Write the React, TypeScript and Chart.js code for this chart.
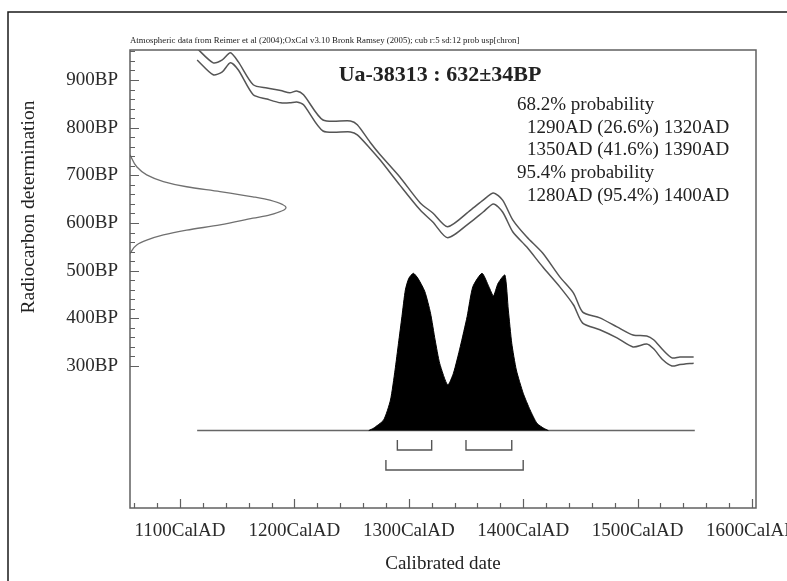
import { useEffect, useRef } from "react";
import Chart from "chart.js/auto";

// ---- Data ----
const calYears = [1115, 1129, 1137, 1144, 1151, 1164, 1176, 1188, 1196, 1202, 1208, 1225, 1249, 1255, 1266, 1275, 1292, 1310, 1321, 1334, 1354, 1365, 1374, 1382, 1391, 1403, 1417, 1432, 1444, 1452, 1467, 1482, 1496, 1508, 1514, 1522, 1530, 1537, 1549];
const curveUpperBP = [966, 936, 942, 957, 938, 890, 883, 878, 873, 877, 869, 816, 814, 806, 770, 743, 697, 642, 621, 592, 627, 648, 663, 648, 606, 571, 537, 487, 453, 413, 401, 382, 365, 363, 355, 334, 317, 319, 319];
const curveLowerBP = [942, 911, 917, 936, 921, 869, 860, 852, 852, 854, 848, 793, 791, 785, 757, 732, 680, 627, 602, 569, 602, 623, 640, 623, 581, 550, 508, 466, 428, 390, 376, 359, 340, 346, 336, 313, 300, 303, 306];

const probYears = [1265, 1269, 1278, 1284, 1288, 1291, 1294, 1297, 1300, 1304, 1308, 1314, 1319, 1323, 1327, 1334, 1339, 1345, 1351, 1356, 1364, 1370, 1374, 1378, 1384, 1387, 1390, 1394, 1400, 1406, 1412, 1418, 1422];
const probValues = [0, 0.014, 0.067, 0.194, 0.385, 0.555, 0.725, 0.894, 0.968, 1.0, 0.968, 0.884, 0.746, 0.576, 0.427, 0.289, 0.364, 0.533, 0.725, 0.915, 1.0, 0.915, 0.856, 0.936, 0.989, 0.766, 0.555, 0.385, 0.237, 0.131, 0.046, 0.014, 0];

const gaussBP = [743, 718, 701, 687, 676, 666, 655, 648, 632, 617, 610, 596, 585, 575, 564, 554, 536];
const gaussDensity = [0, 0.043, 0.107, 0.214, 0.363, 0.577, 0.788, 0.897, 1.0, 0.897, 0.788, 0.577, 0.363, 0.214, 0.107, 0.043, 0];

const baselineYears = [1115, 1550];
const range68 = [[1290, 1320], [1350, 1390]];
const range95 = [[1280, 1400]];

const xTickYears = [1100, 1200, 1300, 1400, 1500, 1600];
const yTickBP = [300, 400, 500, 600, 700, 800, 900];
const xMinorStart = 1060, xMinorEnd = 1600, xMinorStep = 20;
const yMinorStart = 300, yMinorEnd = 960, yMinorStep = 20;

const captionText = "Atmospheric data from Reimer et al (2004);OxCal v3.10 Bronk Ramsey (2005); cub r:5 sd:12 prob usp[chron]";
const titleText = "Ua-38313 : 632\u00b134BP";
const probHeadings = ["68.2% probability", "95.4% probability"];
const probRanges68 = ["1290AD (26.6%) 1320AD", "1350AD (41.6%) 1390AD"];
const probRanges95 = ["1280AD (95.4%) 1400AD"];
const xTitle = "Calibrated date";
const yTitle = "Radiocarbon determination";

const SERIF = '"Liberation Serif", "Times New Roman", serif';

export default function App() {
  const ref = useRef<HTMLCanvasElement | null>(null);

  useEffect(() => {
    const canvas = ref.current;
    if (!canvas) return;

    const decor = {
      id: "decor",
      beforeDraw(chart: any) {
        const ctx = chart.ctx;
        ctx.save();
        ctx.fillStyle = "#ffffff";
        ctx.fillRect(0, 0, chart.width, chart.height);
        ctx.restore();
      },
      afterDraw(chart: any) {
        const ctx = chart.ctx;
        const { left, top, right, bottom } = chart.chartArea;
        const xs = chart.scales.x;
        const ys = chart.scales.y;
        ctx.save();
        // outer frame
        ctx.strokeStyle = "#1a1a1a";
        ctx.lineWidth = 1.5;
        ctx.beginPath();
        ctx.moveTo(8, 700);
        ctx.lineTo(8, 12);
        ctx.lineTo(900, 12);
        ctx.stroke();
        // plot box
        ctx.strokeStyle = "#606060";
        ctx.lineWidth = 1.5;
        ctx.strokeRect(left, top, right - left, bottom - top);
        // ticks (inward)
        ctx.lineWidth = 1.2;
        ctx.beginPath();
        for (let yr = xMinorStart; yr <= xMinorEnd; yr += xMinorStep) {
          const px = Math.round(xs.getPixelForValue(yr)) + 0.5;
          const len = yr % 100 === 0 ? 9 : 5;
          ctx.moveTo(px, bottom);
          ctx.lineTo(px, bottom - len);
        }
        for (let bp = yMinorStart; bp <= yMinorEnd; bp += yMinorStep) {
          const py = Math.round(ys.getPixelForValue(bp)) + 0.5;
          const len = bp % 100 === 0 ? 9 : 5;
          ctx.moveTo(left, py);
          ctx.lineTo(left + len, py);
        }
        ctx.stroke();

        // texts
        ctx.fillStyle = "#222";
        ctx.textBaseline = "middle";
        ctx.textAlign = "left";
        ctx.font = `8.8px ${SERIF}`;
        ctx.fillText(captionText, left, 41);

        ctx.font = `bold 22px ${SERIF}`;
        ctx.textAlign = "center";
        ctx.fillText(titleText, 440, 75);

        ctx.font = `19px ${SERIF}`;
        ctx.textAlign = "left";
        const lh = 22.7;
        const y0 = 105;
        ctx.fillText(probHeadings[0], 517, y0);
        ctx.fillText(probRanges68[0], 527, y0 + lh);
        ctx.fillText(probRanges68[1], 527, y0 + 2 * lh);
        ctx.fillText(probHeadings[1], 517, y0 + 3 * lh);
        ctx.fillText(probRanges95[0], 527, y0 + 4 * lh);

        ctx.textAlign = "center";
        ctx.fillText(xTitle, (left + right) / 2, 564);

        ctx.save();
        ctx.translate(29, 207);
        ctx.rotate(-Math.PI / 2);
        ctx.font = `19.5px ${SERIF}`;
        ctx.fillText(yTitle, 0, 0);
        ctx.restore();

        ctx.restore();
      },
    };

    const lineColor = "#555";
    const bracketSets: any[] = [];
    range68.forEach(([a, b]) => {
      bracketSets.push({
        data: [{ x: a, y: -0.06 }, { x: a, y: -0.124 }, { x: b, y: -0.124 }, { x: b, y: -0.06 }],
        xAxisID: "x", yAxisID: "yp", borderColor: lineColor, borderWidth: 1.4, pointRadius: 0, fill: false, tension: 0,
      });
    });
    range95.forEach(([a, b]) => {
      bracketSets.push({
        data: [{ x: a, y: -0.188 }, { x: a, y: -0.251 }, { x: b, y: -0.251 }, { x: b, y: -0.188 }],
        xAxisID: "x", yAxisID: "yp", borderColor: lineColor, borderWidth: 1.4, pointRadius: 0, fill: false, tension: 0,
      });
    });

    const chart = new Chart(canvas, {
      type: "line",
      data: {
        datasets: [
          {
            data: probYears.map((x, i) => ({ x, y: probValues[i] })),
            xAxisID: "x", yAxisID: "yp",
            borderColor: "#000", backgroundColor: "#000", borderWidth: 1,
            fill: "origin", pointRadius: 0, tension: 0.2,
          },
          {
            data: baselineYears.map((x) => ({ x, y: 0 })),
            xAxisID: "x", yAxisID: "yp",
            borderColor: "#666", borderWidth: 1.5, pointRadius: 0, fill: false,
          },
          ...bracketSets,
          {
            data: calYears.map((x, i) => ({ x, y: curveUpperBP[i] })),
            xAxisID: "x", yAxisID: "y",
            borderColor: lineColor, borderWidth: 1.5, pointRadius: 0, fill: false, tension: 0.25,
          },
          {
            data: calYears.map((x, i) => ({ x, y: curveLowerBP[i] })),
            xAxisID: "x", yAxisID: "y",
            borderColor: lineColor, borderWidth: 1.5, pointRadius: 0, fill: false, tension: 0.25,
          },
          {
            data: gaussBP.map((y, i) => ({ x: gaussDensity[i], y })),
            indexAxis: "y",
            xAxisID: "xp", yAxisID: "y",
            borderColor: "#707070", borderWidth: 1.3, pointRadius: 0, fill: false,
            cubicInterpolationMode: "monotone",
          },
        ],
      },
      options: {
        animation: false,
        responsive: false,
        maintainAspectRatio: false,
        events: [],
        layout: { padding: { top: 50, right: 31, left: 0, bottom: 0 } },
        plugins: { legend: { display: false }, tooltip: { enabled: false }, title: { display: false } },
        scales: {
          x: {
            type: "linear",
            position: "bottom",
            min: 1056.3,
            max: 1603.5,
            grid: { display: false, drawTicks: false },
            border: { display: false },
            afterBuildTicks: (s: any) => { s.ticks = xTickYears.map((v) => ({ value: v })); },
            afterFit: (s: any) => { s.height = 73; s.paddingLeft = 0; s.paddingRight = 0; s.paddingTop = 0; s.paddingBottom = 0; },
            ticks: {
              autoSkip: false,
              maxRotation: 0,
              minRotation: 0,
              padding: 12,
              color: "#2a2a2a",
              font: { family: SERIF, size: 19 },
              callback: (v: any) => `${v}CalAD`,
            },
          },
          y: {
            type: "linear",
            position: "left",
            min: 2.1,
            max: 962.9,
            grid: { display: false, drawTicks: false },
            border: { display: false },
            afterBuildTicks: (s: any) => { s.ticks = yTickBP.map((v) => ({ value: v })); },
            afterFit: (s: any) => { s.width = 130; s.paddingLeft = 0; s.paddingRight = 0; s.paddingTop = 0; s.paddingBottom = 0; },
            ticks: {
              autoSkip: false,
              padding: 12,
              color: "#2a2a2a",
              font: { family: SERIF, size: 19 },
              callback: (v: any) => `${v}BP`,
            },
          },
          xp: { type: "linear", display: false, min: 0, max: 4.013 },
          yp: { type: "linear", display: false, min: -0.493, max: 2.4205 },
        },
      },
      plugins: [decor],
    } as any);

    return () => chart.destroy();
  }, []);

  return (
    <div style={{ position: "absolute", left: 0, top: 0, width: 787, height: 581, background: "#fff" }}>
      <canvas ref={ref} width={787} height={581} style={{ width: 787, height: 581, display: "block" }} />
    </div>
  );
}
